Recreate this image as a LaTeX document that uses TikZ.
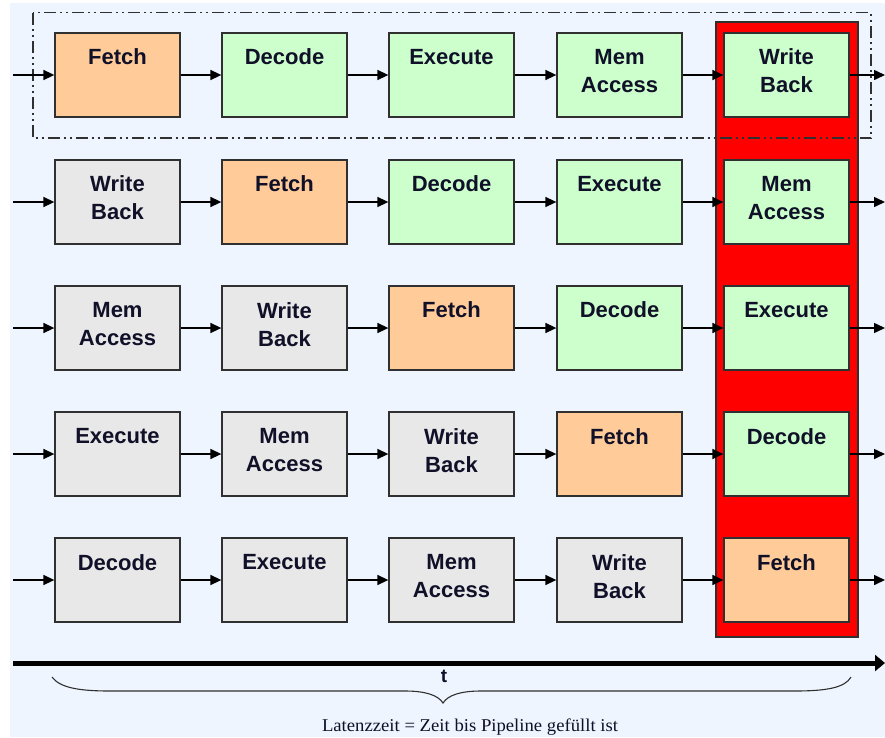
\documentclass[tikz,border=0pt]{standalone}
\usepackage{fontspec}
\usepackage{graphicx}
\newfontfamily\boxfont{Liberation Sans}
\newfontfamily\capfont{Liberation Serif}
\usetikzlibrary{arrows.meta,calc}
\definecolor{bgblue}{HTML}{EEF5FF}
\definecolor{fetchc}{HTML}{FFCC99}
\definecolor{activec}{HTML}{CCFFCC}
\definecolor{donec}{HTML}{E8E8E8}
\definecolor{edgec}{HTML}{303030}
\definecolor{textc}{HTML}{101028}
\tikzset{
  stagebox/.style={draw=edgec, line width=1.3pt, minimum width=125pt, minimum height=84pt, inner sep=0pt},
  stagetext/.style={font=\boxfont\fontsize{22}{28}\selectfont\bfseries, text=textc, align=center, inner sep=0pt, anchor=north},
  flow/.style={line width=1.5pt, -{Triangle[length=11pt,width=10pt]}},
  timeaxis/.style={line width=5pt, -{Triangle[length=10pt,width=16pt]}},
  groupframe/.style={draw=edgec, line width=1.2pt, dash pattern=on 12pt off 4pt on 2pt off 4pt on 2pt off 4pt},
  activecol/.style={fill=red, draw=edgec, line width=1.2pt},
}
\newcommand\stg[5]{%
  \node[stagebox, fill=#4] (#1) at (#2,#3) {};
  \node[stagetext] (#1t) at ($(#1.north)+(0,16.5)$) {#5};
}
\begin{document}
\begin{tikzpicture}[x=1pt,y=-1pt]
  \useasboundingbox[fill=white] (0,0) rectangle (885,737);
  \fill[bgblue] (10,3) rectangle (885,737);
  % active column
  \draw[activecol] (716,22) rectangle (858,637);
  % row 1
  \stg{r1c1}{117.5}{75}{fetchc}{Fetch}
  \stg{r1c2}{284.5}{75}{activec}{Decode}
  \stg{r1c3}{451.5}{75}{activec}{Execute}
  \stg{r1c4}{619.5}{75}{activec}{Mem\\Access}
  \stg{r1c5}{786.5}{75}{activec}{Write\\Back}
  % row 2
  \stg{r2c1}{117.5}{202}{donec}{Write\\Back}
  \stg{r2c2}{284.5}{202}{fetchc}{Fetch}
  \stg{r2c3}{451.5}{202}{activec}{Decode}
  \stg{r2c4}{619.5}{202}{activec}{Execute}
  \stg{r2c5}{786.5}{202}{activec}{Mem\\Access}
  % row 3
  \stg{r3c1}{117.5}{328}{donec}{Mem\\Access}
  \stg{r3c2}{284.5}{328}{donec}{Write\\Back}
  \stg{r3c3}{451.5}{328}{fetchc}{Fetch}
  \stg{r3c4}{619.5}{328}{activec}{Decode}
  \stg{r3c5}{786.5}{328}{activec}{Execute}
  % row 4
  \stg{r4c1}{117.5}{454}{donec}{Execute}
  \stg{r4c2}{284.5}{454}{donec}{Mem\\Access}
  \stg{r4c3}{451.5}{454}{donec}{Write\\Back}
  \stg{r4c4}{619.5}{454}{fetchc}{Fetch}
  \stg{r4c5}{786.5}{454}{activec}{Decode}
  % row 5
  \stg{r5c1}{117.5}{580}{donec}{Decode}
  \stg{r5c2}{284.5}{580}{donec}{Execute}
  \stg{r5c3}{451.5}{580}{donec}{Mem\\Access}
  \stg{r5c4}{619.5}{580}{donec}{Write\\Back}
  \stg{r5c5}{786.5}{580}{fetchc}{Fetch}
  % dash-dot frame around first instruction
  \draw[groupframe] (33,12.5) rectangle (871,138);
  % connectors
  \foreach \r/\y in {1/75,2/202,3/328,4/454,5/580} {
    \coordinate (in\r) at (13,\y);
    \coordinate (out\r) at (885,\y);
    \draw[flow] (in\r) -- (r\r c1.west);
    \draw[flow] (r\r c1.east) -- (r\r c2.west);
    \draw[flow] (r\r c2.east) -- (r\r c3.west);
    \draw[flow] (r\r c3.east) -- (r\r c4.west);
    \draw[flow] (r\r c4.east) -- (r\r c5.west);
    \draw[flow] (r\r c5.east) -- (out\r);
  }
  % time axis
  \coordinate (t0) at (13,663);
  \coordinate (t1) at (885,663);
  \draw[timeaxis] (t0) -- (t1);
  \node[font=\boxfont\fontsize{19}{20}\selectfont\bfseries, text=textc, inner sep=0pt] (tlabel) at (444,676) {t};
  % brace
  \draw[edgec, line width=1.1pt] (52,677) .. controls (60,688) and (80,691) .. (110,691) -- (405,691)
     .. controls (425,691) and (438,695) .. (443,703)
     .. controls (448,695) and (461,691) .. (481,691) -- (795,691)
     .. controls (825,691) and (845,688) .. (851,677);
  \node[anchor=base, inner sep=0pt, text=textc] (caption) at (470,731)
     {\resizebox{296pt}{\height}{\capfont\fontsize{18}{20}\selectfont Latenzzeit = Zeit bis Pipeline gefüllt ist}};
\end{tikzpicture}
\end{document}
